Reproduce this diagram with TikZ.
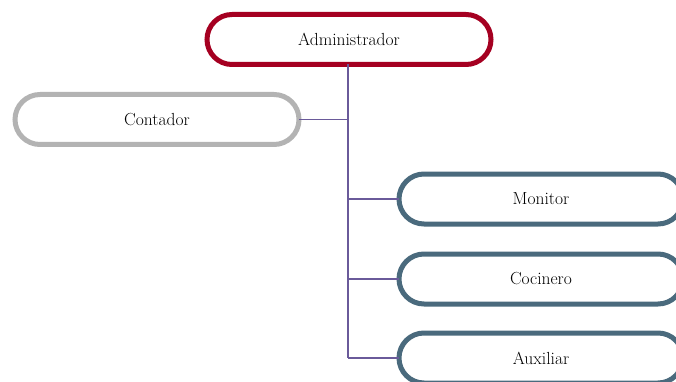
\documentclass[tikz,border=0pt]{standalone}
\usepackage{xcolor}
\usepackage{tikz}
\usetikzlibrary{positioning}
\definecolor{HeadColor}{HTML}{A50021}
\definecolor{StaffColor}{HTML}{B3B3B3}
\definecolor{TeamColor}{HTML}{4A6A7D}
\definecolor{LinkColor}{HTML}{6A5A9A}

\begin{document}
\begin{tikzpicture}[
      x=1pt, y=-1pt,
      role/.style = {draw, fill=white, line width=5pt, rounded corners=25pt,
        minimum width=284pt, minimum height=50pt, inner sep=0pt, outer sep=0pt,
        font=\fontsize{17.5}{20}\selectfont},
      head/.style = {role, draw=HeadColor},
      staff/.style = {role, draw=StaffColor},
      team/.style = {role, draw=TeamColor},
      link/.style = {draw=LinkColor, line width=1.5pt},
  ]
  \useasboundingbox (0,0) rectangle (676,382);
  % nodos
  \node[head] (admin) at (349,39.5) {Administrador};
  \node[staff] (contador) at (157,119.5) {Contador};
  \node[team] (monitor) at (541,199) {Monitor};
  \node[team] (cocinero) at (541,279) {Cocinero};
  \node[team] (auxiliar) at (541,358) {Auxiliar};
  % lineas
  \coordinate (bus) at (348,358);
  \draw[link] (admin.south -| bus) -- (bus);
  \draw[link] (contador.east) -- (contador.east -| bus);
  \foreach \n in {monitor, cocinero, auxiliar}
    \draw[link] (\n.west -| bus) -- (\n.west);
\end{tikzpicture}
\end{document}
